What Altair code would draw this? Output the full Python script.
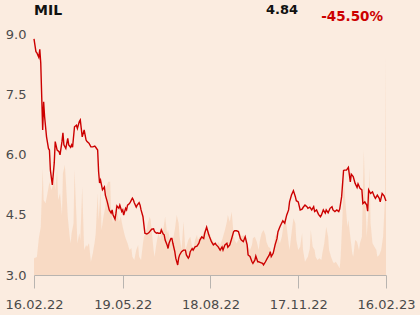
import altair as alt
import pandas as pd

# ---- data ----
start = "2022-02-16"
price_days = [
    0, 2, 3, 5, 6, 7, 9, 10, 11, 13,
    15, 16, 17, 19, 21, 22, 24, 26, 27, 29,
    30, 31, 33, 35, 36, 38, 39, 40, 42, 44,
    45, 47, 48, 49, 50, 52, 54, 55, 57, 59,
    61, 63, 64, 66, 67, 68, 69, 71, 73, 74,
    76, 78, 80, 81, 82, 84, 85, 86, 88, 89,
    91, 92, 93, 95, 96, 97, 99, 100, 102, 103,
    104, 106, 107, 109, 110, 111, 113, 114, 115, 117,
    119, 120, 122, 124, 125, 127, 128, 129, 131, 132,
    134, 135, 136, 138, 139, 140, 142, 143, 144, 146,
    147, 149, 150, 151, 153, 155, 157, 158, 160, 161,
    162, 164, 165, 167, 169, 171, 172, 174, 176, 177,
    179, 181, 182, 184, 186, 188, 189, 191, 193, 195,
    196, 198, 200, 201, 203, 205, 207, 208, 210, 212,
    214, 215, 217, 219, 221, 222, 224, 226, 227, 229,
    230, 232, 233, 235, 237, 238, 240, 242, 244, 245,
    246, 248, 250, 252, 253, 255, 257, 258, 260, 262,
    264, 265, 267, 269, 271, 272, 274, 276, 278, 279,
    281, 283, 284, 286, 288, 290, 291, 293, 295, 297,
    298, 300, 302, 303, 305, 307, 309, 310, 312, 314,
    316, 317, 319, 321, 322, 324, 326, 328, 329, 331,
    333, 335, 336, 338, 340, 341, 343, 345, 346, 347,
    349, 351, 353, 354, 356, 358, 359, 361, 363, 365,
]
price_values = [
    8.88, 8.56, 8.53, 8.42, 8.62, 8.28, 6.61, 7.31, 6.94, 6.44,
    6.15, 6.11, 5.61, 5.24, 5.79, 6.32, 6.11, 6.07, 5.99, 6.32,
    6.54, 6.24, 6.15, 6.40, 6.24, 6.18, 6.24, 6.18, 6.69, 6.73,
    6.65, 6.82, 6.86, 6.65, 6.44, 6.61, 6.36, 6.32, 6.28, 6.19,
    6.19, 6.21, 6.18, 6.11, 5.57, 5.29, 5.36, 5.12, 5.19, 4.99,
    4.82, 4.62, 4.54, 4.62, 4.49, 4.39, 4.54, 4.72, 4.66, 4.74,
    4.58, 4.62, 4.49, 4.66, 4.62, 4.74, 4.78, 4.82, 4.91, 4.87,
    4.80, 4.69, 4.74, 4.80, 4.74, 4.62, 4.45, 4.24, 4.04, 4.02,
    4.05, 4.08, 4.14, 4.15, 4.08, 4.04, 4.05, 4.04, 4.04, 4.12,
    4.02, 4.00, 3.87, 3.75, 3.66, 3.79, 3.91, 3.91, 3.79, 3.58,
    3.42, 3.25, 3.42, 3.50, 3.58, 3.62, 3.62, 3.50, 3.42, 3.46,
    3.58, 3.66, 3.62, 3.70, 3.72, 3.79, 3.87, 3.95, 3.91, 4.04,
    4.19, 4.02, 3.95, 3.83, 3.75, 3.79, 3.75, 3.70, 3.62, 3.70,
    3.62, 3.75, 3.79, 3.69, 3.75, 3.91, 4.08, 4.10, 4.10, 4.08,
    3.91, 3.87, 3.83, 3.95, 3.75, 3.50, 3.46, 3.33, 3.29, 3.37,
    3.47, 3.33, 3.33, 3.31, 3.29, 3.25, 3.33, 3.42, 3.50, 3.58,
    3.46, 3.54, 3.75, 3.91, 4.08, 4.20, 4.30, 4.35, 4.29, 4.49,
    4.62, 4.82, 4.99, 5.10, 4.95, 4.85, 4.82, 4.62, 4.64, 4.68,
    4.74, 4.70, 4.66, 4.69, 4.62, 4.70, 4.58, 4.62, 4.51, 4.45,
    4.49, 4.62, 4.54, 4.62, 4.55, 4.66, 4.70, 4.62, 4.58, 4.62,
    4.58, 4.64, 4.95, 5.60, 5.61, 5.61, 5.68, 5.32, 5.51, 5.45,
    5.28, 5.18, 5.27, 5.16, 5.12, 4.78, 4.82, 4.74, 4.59, 5.12,
    5.03, 5.07, 4.95, 4.91, 4.99, 4.91, 4.82, 5.03, 4.97, 4.84,
]
volume_days = [
    0, 3, 5, 7, 9, 10, 12, 14, 16, 18,
    19, 21, 22, 24, 25, 27, 29, 30, 32, 33,
    35, 37, 38, 39, 41, 42, 44, 45, 47, 48,
    50, 52, 54, 55, 57, 59, 61, 63, 64, 66,
    67, 69, 70, 72, 74, 75, 77, 79, 80, 82,
    83, 85, 86, 88, 90, 92, 94, 95, 97, 99,
    101, 102, 104, 106, 108, 109, 111, 113, 114, 116,
    118, 120, 121, 122, 124, 125, 127, 129, 131, 132,
    134, 136, 138, 139, 141, 143, 144, 146, 148, 150,
    151, 153, 155, 157, 158, 160, 162, 164, 165, 167,
    169, 170, 172, 174, 176, 177, 179, 181, 182, 184,
    186, 188, 189, 191, 193, 195, 196, 198, 200, 201,
    203, 205, 207, 208, 210, 212, 214, 215, 217, 219,
    221, 222, 224, 226, 227, 229, 231, 233, 234, 236,
    238, 240, 241, 243, 245, 246, 248, 250, 252, 253,
    255, 257, 258, 260, 262, 264, 265, 267, 269, 271,
    272, 274, 276, 278, 279, 281, 283, 284, 286, 287,
    289, 291, 292, 294, 296, 298, 299, 301, 303, 305,
    306, 308, 310, 311, 313, 315, 317, 318, 320, 321,
    323, 325, 326, 328, 330, 331, 333, 335, 337, 338,
    340, 342, 343, 345, 347, 348, 349, 351, 353, 355,
    356, 358, 360, 362, 363, 364, 365,
]
volume_values = [
    167, 180, 367, 480, 1067, 750, 717, 817, 930, 850,
    880, 950, 850, 1050, 750, 817, 600, 1017, 1100, 950,
    583, 383, 317, 417, 517, 1050, 583, 317, 417, 350,
    883, 250, 300, 283, 317, 133, 217, 333, 417, 817,
    550, 850, 450, 583, 683, 883, 933, 933, 633, 517,
    583, 717, 650, 533, 583, 483, 400, 367, 317, 250,
    267, 183, 150, 250, 300, 183, 150, 317, 383, 417,
    517, 583, 550, 450, 250, 183, 317, 417, 350, 483,
    450, 583, 417, 450, 350, 333, 350, 450, 600, 517,
    383, 250, 533, 250, 283, 350, 383, 283, 250, 350,
    400, 350, 383, 383, 433, 450, 417, 450, 417, 367,
    333, 317, 283, 333, 300, 350, 383, 450, 533, 600,
    533, 633, 400, 350, 317, 350, 417, 383, 400, 383,
    333, 283, 250, 300, 367, 383, 333, 250, 333, 417,
    450, 400, 333, 283, 267, 200, 230, 383, 417, 367,
    317, 383, 450, 567, 483, 317, 250, 417, 567, 517,
    350, 250, 283, 417, 250, 133, 167, 183, 267, 450,
    283, 250, 183, 150, 167, 150, 217, 317, 483, 383,
    250, 183, 133, 117, 133, 100, 67, 183, 617, 983,
    717, 483, 550, 383, 217, 183, 350, 333, 250, 317,
    383, 1250, 917, 383, 683, 1067, 517, 317, 283, 250,
    183, 200, 250, 383, 583, 783, 2183,
]
y_ticks = [3.0, 4.5, 6.0, 7.5, 9.0]
x_tick_dates = ["2022-02-16", "2022-05-19", "2022-08-18", "2022-11-17", "2023-02-16"]
title_text = "MIL"
last_text = "4.84"
change_text = "-45.50%"

assert len(price_days) == len(price_values)
assert len(volume_days) == len(volume_values)

t0 = pd.Timestamp(start)
price_df = pd.DataFrame({
    "date": [(t0 + pd.Timedelta(days=d)).strftime("%Y-%m-%dT00:00:00") for d in price_days],
    "price": price_values,
})
vol_df = pd.DataFrame({
    "date": [(t0 + pd.Timedelta(days=d)).strftime("%Y-%m-%dT00:00:00") for d in volume_days],
    "volume": volume_values,
})

def dt(s):
    ts = pd.Timestamp(s)
    return alt.DateTime(year=ts.year, month=ts.month, date=ts.day)

x_scale = alt.Scale(domain=[dt(x_tick_dates[0]), dt(x_tick_dates[-1])])
FONT = "DejaVu Sans"
GRID = "#b8b4b0"
LABEL = "#4a4a4a"

x_axis = alt.Axis(
    values=[dt(s) for s in x_tick_dates],
    format="%d.%m.%y",
    title=None,
    grid=False,
    domainColor=GRID,
    tickColor=GRID,
    tickSize=13,
    labelPadding=10,
    labelFont=FONT,
    labelFontSize=13,
    labelColor=LABEL,
    labelFlush=False,
    labelOverlap=False,
)

vol = alt.Chart(vol_df).mark_area(color="#f7d8c1", opacity=0.9, interpolate="linear").encode(
    x=alt.X("date:T", scale=x_scale, axis=x_axis),
    y=alt.Y("volume:Q", scale=alt.Scale(domain=[0, 2410]), axis=None),
)

line = alt.Chart(price_df).mark_line(color="#cc0000", strokeWidth=1.4).encode(
    x=alt.X("date:T", scale=x_scale, axis=x_axis),
    y=alt.Y(
        "price:Q",
        scale=alt.Scale(domain=[3, 9], nice=False, zero=False),
        axis=alt.Axis(
            values=y_ticks,
            format=".1f",
            title=None,
            domain=False,
            ticks=False,
            tickSize=0,
            labelPadding=8,
            gridColor=GRID,
            gridWidth=1,
            labelFont=FONT,
            labelFontSize=13,
            labelColor=LABEL,
            zindex=1,
        ),
    ),
)

one = pd.DataFrame({"t": [title_text]})
two = pd.DataFrame({"t": [last_text]})
three = pd.DataFrame({"t": [change_text]})

t_title = alt.Chart(one).mark_text(
    font=FONT, fontSize=14, fontWeight="bold", color="#111111", align="left", baseline="alphabetic"
).encode(text="t:N", x=alt.value(0), y=alt.value(-19))
t_last = alt.Chart(two).mark_text(
    font=FONT, fontSize=13, fontWeight="bold", color="#111111", align="right", baseline="alphabetic"
).encode(text="t:N", x=alt.value(264), y=alt.value(-20))
t_change = alt.Chart(three).mark_text(
    font=FONT, fontSize=13.5, fontWeight="bold", color="#cc0000", align="right", baseline="alphabetic"
).encode(text="t:N", x=alt.value(349), y=alt.value(-13))

chart = (
    alt.layer(vol, line, t_title, t_last, t_change)
    .resolve_scale(y="independent")
    .properties(
        width=352,
        height=241,
        background="#fbece0",
        autosize=alt.AutoSizeParams(type="none"),
        padding={"left": 34, "top": 34, "right": 34, "bottom": 40},
    )
    .configure_view(stroke=None)
)

chart.save("out.html", embed_options={"renderer": "svg", "actions": False})
